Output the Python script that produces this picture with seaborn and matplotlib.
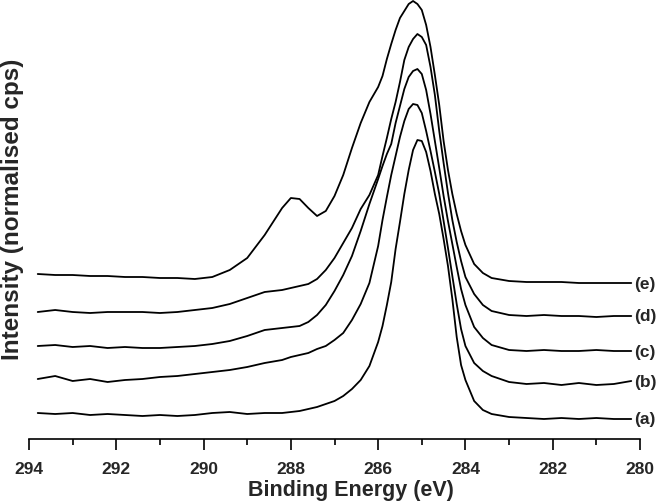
import matplotlib
matplotlib.use('Agg')
import matplotlib.pyplot as plt
import seaborn as sns

# C 1s spectra (arbitrary stacked units)
energy = [293.8, 293.4, 293.0, 292.6, 292.2, 291.8, 291.4, 291.0, 290.6, 290.2, 289.8, 289.4, 289.0, 288.6, 288.2,
          288.0, 287.8, 287.6, 287.4, 287.2, 287.0, 286.8, 286.6, 286.4, 286.2, 286.0,
          285.9, 285.8, 285.7, 285.6, 285.5, 285.4, 285.3, 285.2, 285.1, 285.0,
          284.9, 284.8, 284.7, 284.6, 284.5, 284.4, 284.3, 284.2, 284.1, 284.0,
          283.8, 283.6, 283.4,
          283.0, 282.6, 282.2, 281.8, 281.4, 281.0, 280.6, 280.2]

intensity_a = [32, 31, 32, 30, 31, 30, 29, 30, 29, 30, 32, 33, 31, 32, 32,
               33, 34, 36, 38, 41, 44, 49, 56, 65, 79, 103,
               119, 140, 163, 196, 223, 251, 275, 295, 305, 304,
               293, 274, 251, 231, 206, 179, 146, 108, 80, 65,
               44, 35, 31,
               28, 27, 26, 27, 26, 27, 26, 26]

intensity_b = [66, 69, 64, 66, 63, 65, 66, 68, 69, 71, 73, 75, 78, 82, 85,
               88, 90, 92, 96, 99, 105, 112, 125, 141, 162, 199,
               225, 248, 270, 289, 308, 324, 336, 341, 340, 332,
               314, 294, 273, 251, 224, 197, 169, 141, 116, 99,
               82, 74, 69,
               63, 61, 62, 60, 62, 60, 61, 64]

intensity_c = [99, 100, 98, 99, 97, 98, 97, 97, 98, 99, 101, 104, 109, 115, 117,
               118, 119, 123, 130, 140, 154, 170, 189, 214, 241, 266,
               279, 291, 301, 322, 339, 356, 368, 374, 376, 371,
               355, 331, 304, 277, 249, 224, 201, 178, 156, 140,
               118, 107, 100,
               95, 94, 95, 94, 94, 95, 94, 94]

intensity_d = [133, 135, 133, 132, 133, 133, 133, 132, 133, 135, 137, 141, 147, 153, 155,
               157, 159, 161, 166, 175, 187, 202, 217, 236, 250, 270,
               289, 307, 326, 343, 363, 385, 398, 406, 411, 408,
               400, 378, 350, 314, 282, 252, 225, 203, 184, 168,
               151, 140, 134,
               130, 129, 130, 129, 129, 128, 129, 129]

intensity_e = [171, 170, 170, 169, 169, 168, 168, 167, 167, 166, 168, 175, 187, 210, 237,
               247, 246, 237, 229, 234, 249, 270, 297, 322, 343, 358,
               369, 386, 401, 415, 427, 434, 441, 444, 441, 435,
               420, 398, 370, 340, 304, 275, 251, 231, 214, 200,
               181, 172, 167,
               164, 163, 163, 163, 162, 162, 162, 162]

series_labels = ['(a)', '(b)', '(c)', '(d)', '(e)']

sns.set_style('white')
plt.rcParams['font.family'] = ['Liberation Sans', 'DejaVu Sans']
plt.rcParams['font.weight'] = 'bold'

fig = plt.figure(figsize=(6.63, 5.02), dpi=100)
ax = fig.add_axes([29 / 663, 62 / 502, 611 / 663, 440 / 502])

all_series = [intensity_a, intensity_b, intensity_c, intensity_d, intensity_e]
for label, vals in zip(series_labels, all_series):
    sns.lineplot(x=energy, y=vals, color='black', linewidth=1.3, ax=ax,
                 sort=False, estimator=None)
    ax.text(energy[-1] - 0.06, vals[-1], label, ha='left', va='center',
            fontsize=12.5, fontweight='bold', clip_on=False)

ax.set_xlim(294, 280)
ax.set_ylim(6, 446)
ax.set_xticks(list(range(294, 279, -2)))
ax.set_xticks(list(range(293, 280, -2)), minor=True)
ax.set_yticks([])
ax.tick_params(axis='x', which='both', bottom=True, color='black', width=1.2)
ax.tick_params(axis='x', which='major', direction='out', length=8,
               labelsize=12.5, pad=8)
ax.tick_params(axis='x', which='minor', direction='out', length=4)
for lbl in ax.get_xticklabels():
    lbl.set_fontweight('bold')

for side in ['left', 'top', 'right']:
    ax.spines[side].set_visible(False)
ax.spines['bottom'].set_linewidth(1.2)
ax.spines['bottom'].set_color('black')

ax.set_xlabel('Binding Energy (eV)', fontsize=15.5, fontweight='bold')
ax.xaxis.set_label_coords(0.527, -0.092)
ax.set_ylabel('Intensity (normalised cps)', fontsize=17.5, fontweight='bold')
ax.yaxis.set_label_coords(-0.009, 0.524)

fig.savefig('out.png', dpi=100)
